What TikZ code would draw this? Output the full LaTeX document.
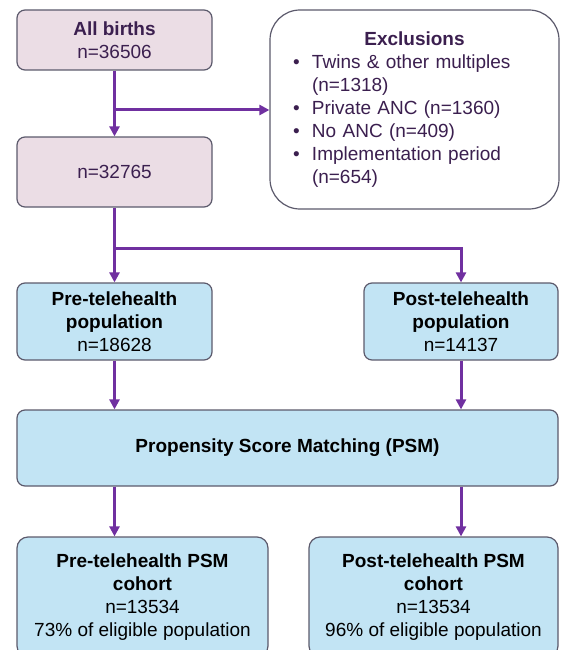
\documentclass[tikz,border=0pt]{standalone}
\usepackage{fontspec}
\setmainfont{Liberation Sans}
\usetikzlibrary{arrows.meta}
\definecolor{boxpink}{HTML}{EBDDE5}
\definecolor{boxblue}{HTML}{C2E4F4}
\definecolor{boxline}{HTML}{5C5A6C}
\definecolor{toptext}{HTML}{3B1F4F}
\definecolor{arrowpurple}{HTML}{7030A0}

\newcommand{\exclitem}[1]{\makebox[19pt][l]{\textbullet}#1}
\newcommand{\exclcont}[1]{\hspace*{19pt}#1}

\begin{document}
\begin{tikzpicture}[x=1pt,y=1pt,
        topbox/.style={draw=boxline, line width=1.2pt, fill=boxpink, rounded corners=8pt, text=toptext, align=center, minimum width=195pt, inner sep=0pt, font=\fontsize{19}{23}\selectfont},
        bluebox/.style={draw=boxline, line width=1.2pt, fill=boxblue, rounded corners=8pt, align=center, inner sep=0pt, font=\fontsize{19}{23}\selectfont},
        flow/.style={draw=arrowpurple, line width=3pt, -{Triangle[width=10pt,length=10pt]}}]
    \useasboundingbox (0,0) rectangle (562,-650);
    % top part
    \node[topbox, minimum height=60pt] (births) at (114.5,-40) {\textbf{All births}\\n=36506};
    \node[topbox, minimum height=70pt] (eligible) at (114.5,-172) {n=32765};
    \node[draw=boxline, line width=1.2pt, fill=white, rounded corners=30pt, text=toptext, align=left,
          minimum width=289pt, minimum height=199pt, text width=243pt, inner xsep=23pt, inner ysep=0pt,
          font=\fontsize{19}{23}\selectfont] (excl) at (414.5,-109.5)
        {\makebox[\linewidth]{\textbf{Exclusions}}\\
         \exclitem{Twins \& other multiples}\\
         \exclcont{(n=1318)}\\
         \exclitem{Private ANC (n=1360)}\\
         \exclitem{No ANC (n=409)}\\
         \exclitem{Implementation period}\\
         \exclcont{(n=654)}};
    % populations
    \node[bluebox, minimum width=195pt, minimum height=77pt] (pre) at (114.5,-321.5) {\textbf{Pre-telehealth}\\\textbf{population}\\n=18628};
    \node[bluebox, minimum width=194pt, minimum height=77pt] (post) at (461,-321.5) {\textbf{Post-telehealth}\\\textbf{population}\\n=14137};
    \node[bluebox, minimum width=541pt, minimum height=76pt] (psm) at (287.5,-448) {\textbf{Propensity Score Matching (PSM)}};
    % cohorts
    \node[bluebox, rounded corners=11pt, minimum width=251pt, minimum height=120pt] (precohort) at (142.5,-597) {\textbf{Pre-telehealth PSM}\\\textbf{cohort}\\n=13534\\73\% of eligible population};
    \node[bluebox, rounded corners=11pt, minimum width=249pt, minimum height=120pt] (postcohort) at (433.5,-597) {\textbf{Post-telehealth PSM}\\\textbf{cohort}\\n=13534\\96\% of eligible population};
    % connectors
    \coordinate (split1) at (114.5,-110);
    \coordinate (split2) at (114.5,-248);
    \draw[flow] (births.south) -- (eligible.north);
    \draw[flow] (split1) -- (split1 -| excl.west);
    \draw[flow] (eligible.south) -- (split2) -| (post.north);
    \draw[flow] (split2) -- (pre.north);
    \draw[flow] (pre.south) -- (pre.south |- psm.north);
    \draw[flow] (post.south) -- (post.south |- psm.north);
    \draw[flow] (psm.south -| pre.south) -- (precohort.north -| pre.south);
    \draw[flow] (psm.south -| post.south) -- (postcohort.north -| post.south);
\end{tikzpicture}
\end{document}
